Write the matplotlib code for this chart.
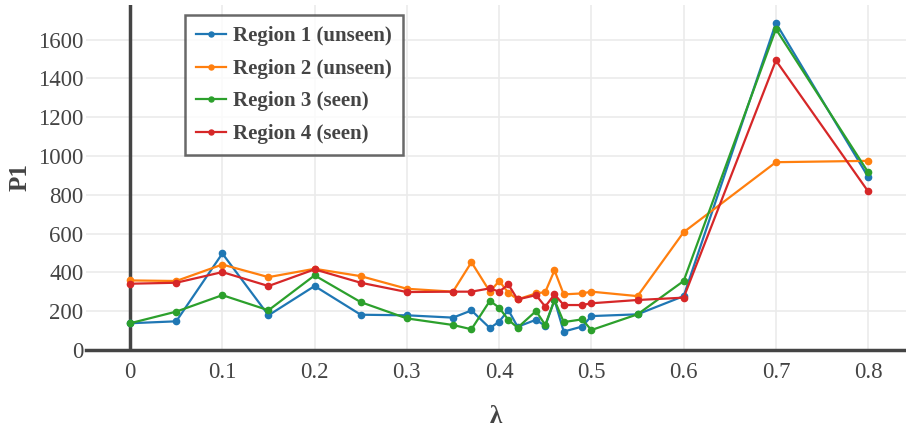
import matplotlib
matplotlib.use('Agg')
import matplotlib.pyplot as plt

lam = [0, 0.05, 0.1, 0.15, 0.2, 0.25, 0.3, 0.35, 0.37, 0.39, 0.40, 0.41, 0.42,
       0.44, 0.45, 0.46, 0.47, 0.49, 0.50, 0.55, 0.6, 0.7, 0.8]

region1 = [137, 147, 497, 178, 329, 181, 178, 166, 203, 112, 145, 205, 119,
           155, 123, 257, 94, 120, 174, 183, 277, 1686, 892]
region2 = [358, 355, 440, 375, 418, 380, 315, 300, 452, 300, 355, 295, 260,
           291, 298, 410, 286, 291, 300, 277, 607, 968, 975]
region3 = [137, 197, 282, 204, 384, 246, 162, 128, 106, 253, 217, 155, 114,
           200, 128, 257, 143, 157, 102, 183, 355, 1655, 916]
region4 = [341, 346, 401, 329, 415, 346, 298, 300, 300, 317, 300, 337, 260,
           282, 223, 286, 231, 231, 240, 257, 269, 1493, 817]

names = ['Region 1 (unseen)', 'Region 2 (unseen)', 'Region 3 (seen)', 'Region 4 (seen)']
colors = ['#1f77b4', '#ff7f0e', '#2ca02c', '#d62728']

plt.rcParams['font.family'] = ['Liberation Serif', 'DejaVu Serif']

fig = plt.figure(figsize=(9.06, 4.4), dpi=100)
ax = fig.add_axes([0.095, 0.205, 0.905, 0.784])

for ys, name, c in zip([region1, region2, region3, region4], names, colors):
    ax.plot(lam, ys, color=c, lw=1.6, marker='o', ms=4.5, label=name, zorder=3)

ax.set_xlim(-0.0477, 0.841)
ax.set_ylim(0, 1780)
ax.set_xticks([0, 0.1, 0.2, 0.3, 0.4, 0.5, 0.6, 0.7, 0.8])
ax.set_xticklabels(['0', '0.1', '0.2', '0.3', '0.4', '0.5', '0.6', '0.7', '0.8'])
ax.set_yticks(range(0, 1601, 200))
ax.grid(True, color='#ebebeb', lw=1.2, zorder=0)
ax.tick_params(length=0, labelsize=16.5, colors='#444444')
ax.tick_params(axis='y', pad=2)
ax.tick_params(axis='x', pad=9)

for s in ['top', 'right', 'left']:
    ax.spines[s].set_visible(False)
ax.spines['bottom'].set_color('#444444')
ax.spines['bottom'].set_linewidth(2.5)
ax.axvline(0, color='#444444', lw=2.5, zorder=2)

ax.set_ylabel('P1', fontsize=18, fontweight='bold', color='#444444')
ax.set_xlabel('λ', fontsize=18, fontweight='bold', color='#444444')
ax.yaxis.set_label_coords(-0.066, 0.5)
ax.xaxis.set_label_coords(0.5, -0.16)

leg = ax.legend(loc='upper left', bbox_to_anchor=(0.1207, 0.971), frameon=True,
                fancybox=False, prop={'size': 15, 'weight': 'bold'},
                handlelength=1.4, handletextpad=0.35, borderpad=0.55,
                labelspacing=0.6, markerscale=0.8, borderaxespad=0)
leg.get_frame().set_edgecolor('#444444')
leg.get_frame().set_linewidth(1.8)
for t in leg.get_texts():
    t.set_color('#444444')

fig.savefig('out.png', dpi=100)
